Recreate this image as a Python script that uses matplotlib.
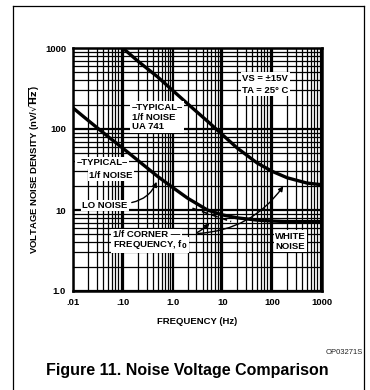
import numpy as np
import matplotlib
matplotlib.use("Agg")
import matplotlib.pyplot as plt
from matplotlib.ticker import FixedLocator, NullFormatter
from matplotlib.lines import Line2D

plt.rcParams['font.family'] = ['Liberation Sans', 'DejaVu Sans']

# ---- data ----
freq_ua741 = [0.1, 0.2, 0.5, 1, 2, 5, 10, 20, 50, 100, 200, 500, 1000]
noise_ua741 = [1000, 690, 440, 300, 205, 125, 85, 58, 38, 30, 25, 21.5, 20.5]

freq_lo = [0.01, 0.02, 0.05, 0.1, 0.2, 0.5, 1, 2, 5, 10, 20, 50, 100, 200, 500, 1000]
noise_lo = [182, 128, 81, 58, 41, 26, 19, 14, 10, 8.7, 8.0, 7.5, 7.3, 7.2, 7.2, 7.2]

freq_asym = [2.5, 15]
noise_asym = [10.5, 7.2]

x_ticks = [0.01, 0.1, 1, 10, 100, 1000]
x_ticklabels = ['.01', '.10', '1.0', '10', '100', '1000']
y_ticks = [1, 10, 100, 1000]
y_ticklabels = ['1.0', '10', '100', '1000']

W, H = 370, 390
fig = plt.figure(figsize=(W / 100, H / 100), dpi=100)
fig.patch.set_facecolor('white')

ax = fig.add_axes([73 / W, 1 - 291 / H, 249 / W, 243 / H])
ax.set_xscale('log')
ax.set_yscale('log')
ax.set_xlim(0.01, 1000)
ax.set_ylim(1, 1000)

# grid
ax.xaxis.set_major_locator(FixedLocator(x_ticks))
ax.yaxis.set_major_locator(FixedLocator(y_ticks))
minx = [m * 10.0 ** d for d in range(-2, 3) for m in range(2, 10)]
miny = [m * 10.0 ** d for d in range(0, 3) for m in range(2, 10)]
ax.xaxis.set_minor_locator(FixedLocator(minx))
ax.yaxis.set_minor_locator(FixedLocator(miny))
ax.xaxis.set_minor_formatter(NullFormatter())
ax.yaxis.set_minor_formatter(NullFormatter())
ax.grid(True, which='major', color='black', linewidth=1.6)
ax.grid(True, which='minor', color='black', linewidth=0.9)
ax.set_axisbelow(True)
ax.tick_params(which='both', length=0, pad=5)
ax.set_xticklabels(x_ticklabels, fontsize=6.8, fontweight='bold')
ax.set_yticklabels(y_ticklabels, fontsize=6.8, fontweight='bold')
for s in ax.spines.values():
    s.set_linewidth(1.8)

ax.set_xlabel('FREQUENCY (Hz)', fontsize=6.8, fontweight='bold', labelpad=7)
ax.set_ylabel(r'VOLTAGE NOISE DENSITY (nV/$\sqrt{\mathbf{Hz}}$)', fontsize=6.8,
              fontweight='bold', labelpad=4)
ax.yaxis.set_label_coords(-0.125, 0.5)

# curves
ax.plot(freq_ua741, noise_ua741, color='black', linewidth=2.4, solid_capstyle='butt', zorder=3)
ax.plot(freq_lo, noise_lo, color='black', linewidth=2.4, solid_capstyle='butt', zorder=3)
ax.plot(freq_asym, noise_asym, color='black', linewidth=1.2, linestyle=(0, (4, 2)), zorder=3)

bbox = dict(boxstyle='square,pad=0.15', facecolor='white', edgecolor='none')
tkw = dict(transform=ax.transAxes, fontsize=6.8, fontweight='bold', va='center', ha='left',
           zorder=5, bbox=bbox)

ax.text(0.236, 0.716, '–TYPICAL–\n1/f NOISE\nUA 741', linespacing=1.1, **tkw)
ax.text(0.015, 0.527, '–TYPICAL–', **tkw)
ax.text(0.066, 0.477, '1/f NOISE', **tkw)
ax.text(0.036, 0.352, 'LO NOISE', **tkw)
ax.text(0.16, 0.232, '1/f CORNER —', **tkw)
ax.text(0.16, 0.19, r'FREQUENCY, f$_\mathbf{0}$', **tkw)
ax.text(0.812, 0.205, 'WHITE\nNOISE', linespacing=1.1, **tkw)
ax.text(0.68, 0.85, 'VS = ±15V\nTA = 25° C', linespacing=1.45, **tkw)

akw = dict(arrowstyle='-|>', color='black', linewidth=1.0, mutation_scale=7)
ax.annotate('', xy=(0.5, 24), xytext=(0.225, 0.362), textcoords='axes fraction',
            arrowprops=dict(connectionstyle='arc3,rad=0.3', **akw), zorder=4)
ax.annotate('', xy=(6.0, 7.3), xytext=(0.49, 0.236), textcoords='axes fraction',
            arrowprops=dict(connectionstyle='arc3,rad=0.1', **akw), zorder=4)
ax.annotate('', xy=(180, 21), xytext=(0.49, 0.236), textcoords='axes fraction',
            arrowprops=dict(connectionstyle='arc3,rad=0.25', **akw), zorder=4)

# outer frame
fig.add_artist(Line2D([12.5 / W, 12.5 / W], [0, 1 - 6 / H], color='black', linewidth=0.9,
                      transform=fig.transFigure))
fig.add_artist(Line2D([12.5 / W, 364 / W], [1 - 6 / H, 1 - 6 / H], color='black', linewidth=0.9,
                      transform=fig.transFigure))
fig.add_artist(Line2D([364 / W, 364 / W], [0, 1 - 6 / H], color='black', linewidth=0.9,
                      transform=fig.transFigure))

fig.text(363 / W, 1 - 352 / H, 'OP03271S', fontsize=5.5, ha='right', va='center', color='#222222')
fig.text(187 / W, 1 - 370 / H, 'Figure 11. Noise Voltage Comparison', fontsize=11.5,
         fontweight='bold', ha='center', va='center')

fig.savefig('out.png', dpi=100, facecolor='white')
